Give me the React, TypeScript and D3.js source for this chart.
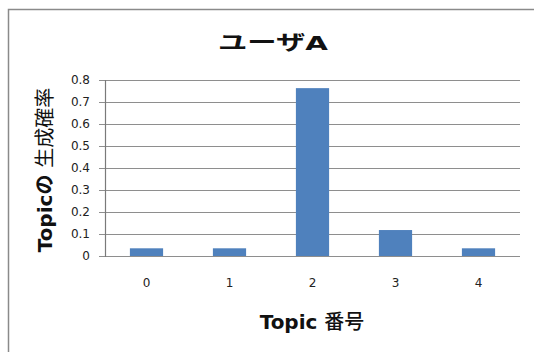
import React from "react";
import * as d3 from "d3";

// Topic generation probabilities for user A
const topics: string[] = ["0", "1", "2", "3", "4"];
const probabilities: number[] = [0.035, 0.035, 0.763, 0.118, 0.035];
const yTicks: number[] = [0, 0.1, 0.2, 0.3, 0.4, 0.5, 0.6, 0.7, 0.8];

const chartTitle = "ユーザA";
const xTitleLatin = "Topic ";
const xTitleCjk = "番号";
const yTitleLatin = "Topicの ";
const yTitleCjk = "生成確率";

const W = 534;
const H = 352;
const plot = { left: 105, right: 520, top: 80, bottom: 256 };
const FONT = "'DejaVu Sans', 'Noto Sans CJK JP', sans-serif";
const GRID = "#8e8e8e";
const BAR = "#4f81bd";

export default function App() {
  const x = d3
    .scaleBand<string>()
    .domain(topics)
    .range([plot.left, plot.right])
    .paddingInner(0.6)
    .paddingOuter(0.3);
  const y = d3.scaleLinear().domain([0, 0.8]).range([plot.bottom, plot.top]);
  const fmt = (v: number) => (v === 0 ? "0" : d3.format(".1f")(v));

  return (
    <svg
      width={W}
      height={H}
      style={{ position: "fixed", left: 0, top: 0, background: "#fff" }}
      fontFamily={FONT}
    >
      <rect x={0} y={0} width={W} height={H} fill="#fff" />
      {/* chart frame, running past the right and bottom edges */}
      <path d={`M8.5,${H + 5}V9.5H${W + 5}`} fill="none" stroke="#8a8a8a" strokeWidth={1.5} />

      <text
        x={218}
        y={50}
        fontSize={20}
        fontWeight="bold"
        fill="#111"
        textLength={110}
        lengthAdjust="spacingAndGlyphs"
      >
        {chartTitle}
      </text>

      {/* gridlines with tick stubs */}
      {yTicks.map((t) => (
        <g key={t}>
          <line x1={99} x2={plot.right} y1={Math.round(y(t)) + 0.5} y2={Math.round(y(t)) + 0.5} stroke={GRID} strokeWidth={1} />
          <text x={90} y={y(t)} dy="0.36em" textAnchor="end" fontSize={12} fill="#222">
            {fmt(t)}
          </text>
        </g>
      ))}
      <line x1={plot.left + 0.5} x2={plot.left + 0.5} y1={plot.top} y2={plot.bottom + 1} stroke="#7a7a7a" strokeWidth={1.2} />

      {/* bars */}
      {topics.map((c, i) => (
        <rect
          key={c}
          x={x(c)!}
          y={y(probabilities[i])}
          width={x.bandwidth()}
          height={y(0) - y(probabilities[i])}
          fill={BAR}
        />
      ))}

      {topics.map((c) => (
        <text
          key={c}
          x={x(c)! + x.bandwidth() / 2}
          y={283}
          dy="0.36em"
          textAnchor="middle"
          fontSize={12}
          fill="#222"
        >
          {c}
        </text>
      ))}

      <text x={312} y={329} textAnchor="middle" fontSize={20} fontWeight="bold" fill="#111">
        {xTitleLatin}
        <tspan fontWeight={500}>{xTitleCjk}</tspan>
      </text>

      <text
        transform={`translate(52,${(plot.top + plot.bottom) / 2 + 2}) rotate(-90)`}
        textAnchor="middle"
        fontSize={20}
        fontWeight="bold"
        fill="#111"
      >
        {yTitleLatin}
        <tspan fontWeight={400}>{yTitleCjk}</tspan>
      </text>
    </svg>
  );
}
